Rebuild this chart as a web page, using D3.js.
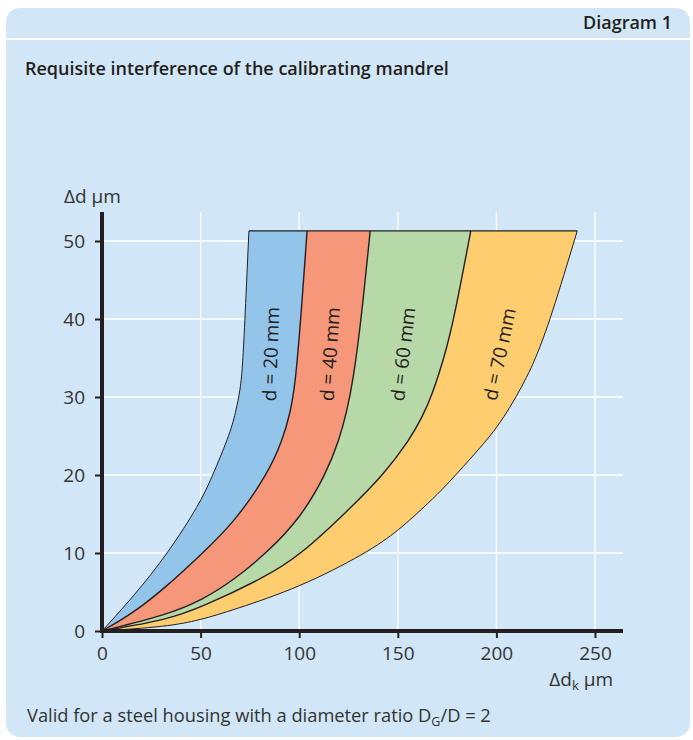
<!DOCTYPE html>
<html><head><meta charset="utf-8">
<script src="https://cdn.jsdelivr.net/npm/d3@7"></script>
<style>body{margin:0;background:#fff;} svg{display:block;font-family:"Open Sans",sans-serif;}</style>
</head><body>
<script>
// ---- data ----
const xTicks = [0, 50, 100, 150, 200, 250];
const yTicks = [0, 10, 20, 30, 40, 50];
const bandLabels = ["d = 20 mm", "d = 40 mm", "d = 60 mm", "d = 70 mm"];
const bandColors = ["#92c5e9", "#f6977a", "#b7d9a8", "#fecd6f"];
const topDd = 51.3;
// boundary curves: [Δd, Δdk]
const curve1 = [[0,0],[4.4,15.9],[10,33.6],[16.4,49.7],[19.4,55.2],[25,64.5],[28,67.8],[31,70.2],[34,71.3],[40,72.5],[51.3,74.5]];
const curve2 = [[0,0],[2.3,15.9],[5.7,32.8],[10,51],[13.8,66.6],[20.1,84],[24.5,91.6],[28,95.5],[31.6,98],[40,100.8],[51.3,104]];
const curve3 = [[0,0],[2.05,32.8],[4,51],[6.5,66.6],[10,83.5],[14.4,100.4],[20.1,113.6],[24.5,120.3],[28,124],[32,127.3],[40,131.5],[51.3,136]];
const curve4 = [[0,0],[1.4,32.8],[3.1,51],[7,83.5],[9.7,100.4],[15.5,125],[20.1,143],[24.5,156],[27.5,162.5],[30,167],[35,173.5],[40,178.5],[51.3,187]];
const curve5 = [[0,0],[0.55,32.8],[1.4,49.7],[2.7,66.6],[5.6,100.4],[10,134.2],[12.9,150.6],[16.6,166.3],[18.5,174],[22,186.5],[25,197],[27.5,204],[30,210],[32.5,215.3],[35,220],[40,227.5],[51.3,241]];
const curves = [curve1, curve2, curve3, curve4, curve5];
const labelPos = [[85.5,35.5],[115.5,35.5],[152.5,35.5],[201.5,35.5]];
const labelRot = [-88,-86,-83,-78];

const W = 693, H = 740;
const svg = d3.select("body").append("svg").attr("width", W).attr("height", H);

// panel
svg.append("rect").attr("x",6).attr("y",8).attr("width",684).attr("height",729).attr("rx",14).attr("fill","#d1e6f6");
svg.append("line").attr("x1",6).attr("x2",690).attr("y1",39).attr("y2",39).attr("stroke","#fff").attr("stroke-width",2);
svg.append("text").attr("x",672).attr("y",29).attr("text-anchor","end").attr("font-size",18).attr("font-weight",600).attr("fill","#231f20").text("Diagram 1");
svg.append("text").attr("x",25).attr("y",75).attr("font-size",18).attr("font-weight",600).attr("fill","#231f20").text("Requisite interference of the calibrating mandrel");

const x = d3.scaleLinear().domain([0,250]).range([102,595]);
const y = d3.scaleLinear().domain([0,50]).range([631,241]);

// grid
const g = svg.append("g");
g.selectAll(".vg").data(xTicks.slice(1)).join("line")
  .attr("x1",d=>x(d)).attr("x2",d=>x(d)).attr("y1",212).attr("y2",631).attr("stroke","#fff").attr("stroke-width",1.3);
g.selectAll(".hg").data(yTicks.slice(1)).join("line")
  .attr("y1",d=>y(d)).attr("y2",d=>y(d)).attr("x1",102).attr("x2",623).attr("stroke","#fff").attr("stroke-width",1.3);

// bands
const interp = d3.curveBasis;
const lineGen = d3.line().y(p=>y(p[0])).x(p=>x(p[1])).curve(interp);
for (let i = 0; i < 4; i++) {
  const a = curves[i], b = curves[i+1];
  const pathA = lineGen(a);
  const pathB = lineGen(b.slice().reverse());
  svg.append("path").attr("d", pathA + "L" + pathB.slice(1) + "Z").attr("fill", bandColors[i]).attr("stroke","none");
}
// curve lines
curves.forEach((c,i)=>{
  svg.append("path").attr("d", lineGen(c)).attr("fill","none").attr("stroke","#231f20").attr("stroke-width", (i===0||i===4)?1:1.4);
});
svg.append("line").attr("x1",x(curve1[curve1.length-1][1])).attr("x2",x(curve5[curve5.length-1][1]))
  .attr("y1",y(topDd)).attr("y2",y(topDd)).attr("stroke","#231f20").attr("stroke-width",1.2);

// labels
bandLabels.forEach((t,i)=>{
  const px = x(labelPos[i][0]), py = y(labelPos[i][1]);
  svg.append("text").attr("transform",`translate(${px},${py}) rotate(${labelRot[i]})`)
    .attr("text-anchor","middle").attr("dominant-baseline","central").attr("font-size",19).attr("fill","#231f20").text(t);
});

// axes
const xAxis = d3.axisBottom(x).tickValues(xTicks).tickSize(7).tickSizeOuter(0).tickPadding(9);
const yAxis = d3.axisLeft(y).tickValues(yTicks).tickSize(7).tickSizeOuter(0).tickPadding(10);
const gx = svg.append("g").attr("transform","translate(0,631)").call(xAxis);
const gy = svg.append("g").attr("transform","translate(102,0)").call(yAxis);
[gx,gy].forEach(a=>{
  a.select(".domain").remove();
  a.selectAll(".tick line").attr("stroke","#231f20").attr("stroke-width",2);
  a.selectAll(".tick text").attr("font-size",19).attr("fill","#333").attr("font-family","Open Sans, sans-serif");
});
svg.append("line").attr("x1",102).attr("x2",102).attr("y1",212).attr("y2",633).attr("stroke","#231f20").attr("stroke-width",4);
svg.append("line").attr("x1",100).attr("x2",623).attr("y1",631).attr("y2",631).attr("stroke","#231f20").attr("stroke-width",4);

svg.append("text").attr("x",64).attr("y",203).attr("font-size",19).attr("fill","#333").text("Δd µm");
const xl = svg.append("text").attr("x",613).attr("y",686).attr("text-anchor","end").attr("font-size",19).attr("fill","#333");
xl.append("tspan").text("Δd");
xl.append("tspan").attr("font-size",13).attr("dy",4).text("k");
xl.append("tspan").attr("dy",-4).text(" µm");

const fn = svg.append("text").attr("x",27).attr("y",722).attr("font-size",18.3).attr("fill","#333");
fn.append("tspan").text("Valid for a steel housing with a diameter ratio D");
fn.append("tspan").attr("font-size",12.5).attr("dy",4).text("G");
fn.append("tspan").attr("dy",-4).text("/D = 2");
</script>
</body></html>
